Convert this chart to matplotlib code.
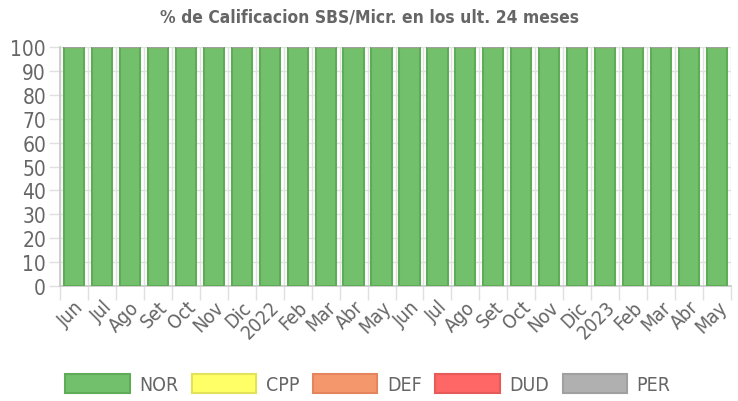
import matplotlib.pyplot as plt
import numpy as np
from matplotlib.patches import Patch

plt.rcParams["font.family"] = ["Liberation Sans Narrow", "DejaVu Sans"]
plt.rcParams["font.stretch"] = "condensed"

meses = ["Jun", "Jul", "Ago", "Set", "Oct", "Nov", "Dic", "2022", "Feb", "Mar", "Abr", "May",
         "Jun", "Jul", "Ago", "Set", "Oct", "Nov", "Dic", "2023", "Feb", "Mar", "Abr", "May"]
nor = [100] * 24
cpp = [0] * 24
dfe = [0] * 24
dud = [0] * 24
per = [0] * 24

series = [
    ("NOR", nor, "#72c06c", "#5eab58"),
    ("CPP", cpp, "#ffff66", "#e3e35a"),
    ("DEF", dfe, "#f5976c", "#e5855e"),
    ("DUD", dud, "#ff6666", "#e65a5a"),
    ("PER", per, "#b0b0b0", "#a0a0a0"),
]

fig = plt.figure(figsize=(7.38, 4.02), dpi=100)
ax = fig.add_axes([60 / 738, 1 - 287 / 402, 671 / 738, 239 / 402])

x = np.arange(len(meses))
bottom = np.zeros(len(meses))
handles = []
for name, vals, fc, ec in series:
    vals = np.array(vals, dtype=float)
    ax.bar(x, vals, width=0.72, bottom=bottom, color=fc, edgecolor=ec, linewidth=1.5, zorder=3)
    bottom += vals
    handles.append(Patch(facecolor=fc, edgecolor=ec, linewidth=1.5, label=name))

ax.set_xlim(-0.5, len(meses) - 0.5)
ax.set_ylim(0, 100)
ax.set_yticks(np.arange(0, 101, 10))
ax.set_xticks(x)
ax.set_xticklabels(meses, rotation=45, ha="right", rotation_mode="anchor")
ax.set_xticks(np.arange(-0.5, len(meses), 1), minor=True)

ax.tick_params(axis="x", which="major", length=0, pad=8, labelsize=14, labelcolor="#666666")
ax.tick_params(axis="x", which="minor", length=10, color="#e0e0e0", width=1)
ax.tick_params(axis="y", length=8, color="#e0e0e0", width=1, pad=2, labelsize=15, labelcolor="#666666")

ax.grid(axis="y", which="major", color="#e0e0e0", linewidth=1, zorder=0)
ax.grid(axis="x", which="minor", color="#e0e0e0", linewidth=1, zorder=0)
for s in ["top", "right"]:
    ax.spines[s].set_visible(False)
for s in ["left", "bottom"]:
    ax.spines[s].set_color("#c8c8c8")
    ax.spines[s].set_linewidth(1.2)

fig.text(0.5, 1 - 17 / 402, "% de Calificacion SBS/Micr. en los ult. 24 meses",
         ha="center", va="center", fontsize=12.5, fontweight="bold", color="#666666")

fig.legend(handles=handles, loc="center", bbox_to_anchor=(368 / 738, 1 - 385 / 402), ncol=5,
           frameon=False, fontsize=14, handlelength=3.3, handleheight=1.1,
           handletextpad=0.5, columnspacing=0.7, labelcolor="#666666")

fig.savefig("out.png", dpi=100)
